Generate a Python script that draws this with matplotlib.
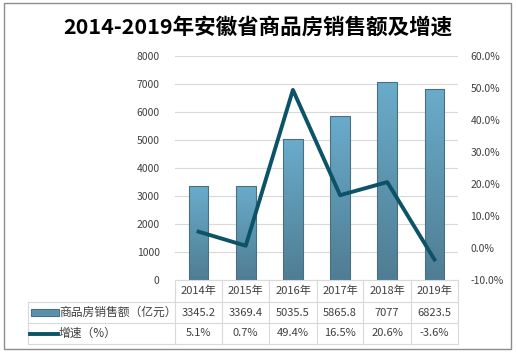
import matplotlib.pyplot as plt
import numpy as np
from matplotlib.patches import Rectangle
from matplotlib.lines import Line2D
from matplotlib.colors import LinearSegmentedColormap

plt.rcParams['font.family'] = ['Noto Sans CJK SC', 'DejaVu Sans']

years = ['2014年', '2015年', '2016年', '2017年', '2018年', '2019年']
sales = [3345.2, 3369.4, 5035.5, 5865.8, 7077, 6823.5]
growth = [5.1, 0.7, 49.4, 16.5, 20.6, -3.6]
sales_labels = ['3345.2', '3369.4', '5035.5', '5865.8', '7077', '6823.5']
growth_labels = ['5.1%', '0.7%', '49.4%', '16.5%', '20.6%', '-3.6%']
row_names = ['商品房销售额（亿元）', '增速（%）']

W, H = 516, 354
fig = plt.figure(figsize=(W / 100, H / 100), dpi=100)

def fx(px):
    return px / W

def fy(py):
    return 1 - py / H

x0, x1, y_top, y_bot = 175, 458, 56, 280
ax = fig.add_axes([fx(x0), fy(y_bot), fx(x1 - x0), (y_bot - y_top) / H])
x = np.arange(len(years))

# bars with a vertical gradient
grad = np.linspace(0, 1, 256).reshape(-1, 1)
cmap = LinearSegmentedColormap.from_list('bar', ['#4f7d93', '#6aaccb'])
bars = ax.bar(x, sales, width=0.42, color='none', edgecolor='#4a6f80', linewidth=0.8, zorder=3)
for b in bars:
    bx, by = b.get_x(), b.get_y()
    bw, bh = b.get_width(), b.get_height()
    im = ax.imshow(grad, extent=[bx, bx + bw, by, by + bh], origin='lower',
                   cmap=cmap, aspect='auto', zorder=2)
    im.set_clip_path(b)

ax.set_xlim(-0.5, len(years) - 0.5)
ax.set_ylim(0, 8000)
ax.set_yticks(range(0, 8001, 1000))
ax.yaxis.grid(True, color='#d9d9d9', linewidth=0.8)
ax.set_axisbelow(True)
ax.set_xticks([])
for s in ax.spines.values():
    s.set_visible(False)
ax.tick_params(axis='y', length=0, pad=11, labelsize=7.5, labelcolor='#404040')

ax2 = ax.twinx()
ax2.plot(x, growth, color='#0c5368', linewidth=2.8, zorder=5)
ax2.set_ylim(-10, 60)
ax2.set_yticks(range(-10, 61, 10))
ax2.set_yticklabels(['%.1f%%' % v for v in range(-10, 61, 10)])
ax2.tick_params(axis='y', length=0, pad=9, labelsize=7.5, labelcolor='#404040')
for s in ax2.spines.values():
    s.set_visible(False)

# title
fig.text(0.5, fy(27), '2014-2019年安徽省商品房销售额及增速', ha='center', va='center',
         fontsize=15.5, fontweight='bold', color='#000000')

# data table under the plot
gc = '#d9d9d9'
cols = [175, 222, 269, 317, 363, 411, 458]
rows = [280, 302, 323, 344]
lines = []
for c in cols:
    lines.append(Line2D([fx(c), fx(c)], [fy(280), fy(344)], color=gc, lw=0.8))
lines.append(Line2D([fx(28), fx(28)], [fy(302), fy(344)], color=gc, lw=0.8))
lines.append(Line2D([fx(175), fx(458)], [fy(280), fy(280)], color=gc, lw=0.8))
for r in rows[1:]:
    lines.append(Line2D([fx(28), fx(458)], [fy(r), fy(r)], color=gc, lw=0.8))
for ln in lines:
    fig.add_artist(ln)

for i in range(len(years)):
    cx = fx((cols[i] + cols[i + 1]) / 2)
    fig.text(cx, fy(291), years[i], ha='center', va='center', fontsize=8, color='#404040')
    fig.text(cx, fy(312.5), sales_labels[i], ha='center', va='center', fontsize=8, color='#404040')
    fig.text(cx, fy(333.5), growth_labels[i], ha='center', va='center', fontsize=8, color='#404040')

# legend keys
fig.add_artist(Rectangle((fx(31), fy(316)), fx(28), 7 / H, facecolor='#5a92ad',
                         edgecolor='#4a6f80', lw=0.8))
fig.add_artist(Line2D([fx(30), fx(58)], [fy(333.5), fy(333.5)], color='#0c5368', lw=2.8))
fig.text(fx(59), fy(312.5), row_names[0], ha='left', va='center', fontsize=8.5, color='#404040')
fig.text(fx(59), fy(333.5), row_names[1], ha='left', va='center', fontsize=8.5, color='#404040')

# outer border
fig.add_artist(Rectangle((fx(4), fy(349)), fx(507), 346 / H, facecolor='none',
                         edgecolor='#8c8c8c', lw=1.0))

fig.savefig('out.png', dpi=100)
